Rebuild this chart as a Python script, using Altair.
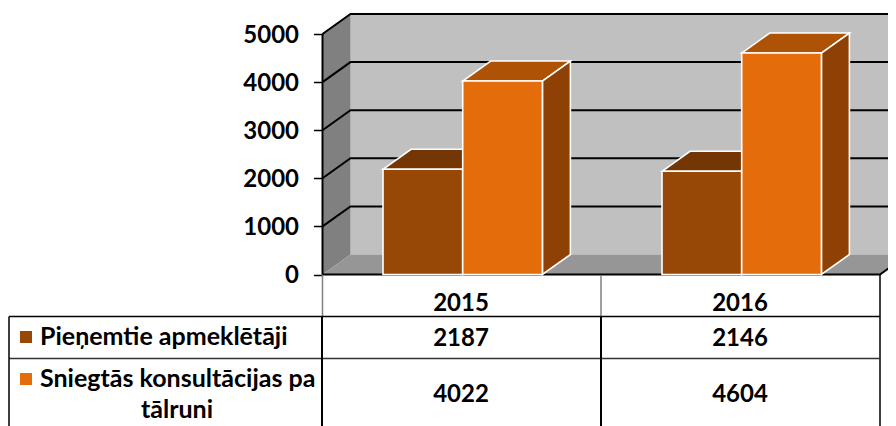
import altair as alt
import pandas as pd

# ---- chart values ----
years = ["2015", "2016"]
series_names = ["Pieņemtie apmeklētāji", "Sniegtās konsultācijas pa"]
visitors = [2187, 2146]
consultations = [4022, 4604]
y_ticks = [0, 1000, 2000, 3000, 4000, 5000]
grid_values = [1000, 2000, 3000, 4000, 5000]

# ---- layout (page pixels, minus the 8px page margin) ----
M = 8
W, H = 880, 418
AXIS_X = 322.5 - M
Y0 = 274.5 - M
PX_PER_UNIT = 240.5 / 5000
DEPTH_X = 28
DEPTH_V = 20 / PX_PER_UNIT
SLOT = 279
BAR_OFFSET = 60.5
BAR_W = 79.7
FLOOR_RIGHT = 880 - M

X_SCALE = alt.Scale(domain=[0, W], range=[0, W], nice=False, zero=False)
Y_SCALE = alt.Scale(
    domain=[-(H - Y0) / PX_PER_UNIT, Y0 / PX_PER_UNIT], nice=False, zero=False
)

FONT = "Lato"
FS = 24
FS_NAMES = 25

Y_AXIS = alt.Axis(
    values=y_ticks, offset=-AXIS_X, tickSize=9, tickWidth=1.5,
    tickColor="black", domain=False, grid=False, labelFont=FONT,
    labelFontSize=FS, labelFontWeight="bold", labelColor="black",
    labelPadding=15, labelOffset=1, format="d", title=None, labelFlush=False,
    labelOverlap=False)


def X():
    return alt.X("x:Q", scale=X_SCALE, axis=None)


def Y():
    return alt.Y("y:Q", scale=Y_SCALE, axis=Y_AXIS, title=None)


def poly(rows, fill, stroke=None, sw=1.6):
    df = pd.DataFrame(rows, columns=["x", "y", "y2"])
    kw = {"fill": fill, "orient": "vertical", "opacity": 1}
    if stroke:
        kw.update(stroke=stroke, strokeWidth=sw)
    return alt.Chart(df).mark_area(**kw).encode(x=X(), y=Y(), y2="y2:Q")


def seg(points, color="black", w=2.0):
    df = pd.DataFrame(points, columns=["x", "y"])
    return alt.Chart(df).mark_line(color=color, strokeWidth=w).encode(x=X(), y=Y())


def px_rule(x1, y1, x2, y2, color="black", w=1.5):
    return (
        alt.Chart(pd.DataFrame({"k": [0]}))
        .mark_rule(color=color, strokeWidth=w)
        .encode(
            x=alt.value(x1 - M), x2=alt.value(x2 - M),
            y=alt.value(y1 - M), y2=alt.value(y2 - M),
        )
    )


def label(text, x, y, align="center", size=FS):
    return (
        alt.Chart(pd.DataFrame({"t": [text]}))
        .mark_text(font=FONT, fontSize=size, fontWeight="bold", color="black",
                   align=align, baseline="middle")
        .encode(x=alt.value(x - M), y=alt.value(y - M), text="t:N")
    )


def bar(x0, value, front, top, side):
    x1 = x0 + BAR_W
    dx, dv = DEPTH_X, DEPTH_V
    layers = [
        poly([[x0, value, value], [x0 + dx, value + dv, value],
              [x1, value + dv, value], [x1 + dx, value + dv, value + dv]],
             top, "white"),
        poly([[x1, value, 0], [x1 + dx, value + dv, dv]], side, "white"),
    ]
    f = pd.DataFrame({"x": [x0], "x2": [x1], "y": [value], "y2": [0]})
    layers.append(
        alt.Chart(f).mark_rect(fill=front, stroke="white", strokeWidth=1.6)
        .encode(x=X(), x2="x2:Q", y=Y(), y2="y2:Q")
    )
    return layers


layers = []

# back wall
wall = pd.DataFrame({"x": [AXIS_X + DEPTH_X], "x2": [W + 5],
                     "y": [5000 + DEPTH_V], "y2": [DEPTH_V]})
layers.append(
    alt.Chart(wall).mark_rect(fill="#C0C0C0", clip=True).encode(x=X(), x2="x2:Q", y=Y(), y2="y2:Q")
)
# left wall and floor
layers.append(poly([[AXIS_X, 5000, 0], [AXIS_X + DEPTH_X, 5000 + DEPTH_V, DEPTH_V]], "#808080"))
layers.append(poly([[AXIS_X, 0, 0], [AXIS_X + DEPTH_X, DEPTH_V, 0],
                    [FLOOR_RIGHT, DEPTH_V, 0],
                    [FLOOR_RIGHT + DEPTH_X, DEPTH_V, DEPTH_V]], "#969696"))
# gridlines
for v in grid_values:
    layers.append(seg([[AXIS_X, v], [AXIS_X + DEPTH_X, v + DEPTH_V], [W + 5, v + DEPTH_V]]))
# axis edges
layers.append(seg([[AXIS_X, 0], [AXIS_X, 5000]]))
layers.append(seg([[AXIS_X, 0], [FLOOR_RIGHT, 0], [FLOOR_RIGHT + DEPTH_X, DEPTH_V]]))

# bars
for i, year in enumerate(years):
    start = AXIS_X + SLOT * i + BAR_OFFSET
    layers += bar(start, visitors[i], "#974806", "#743604", "#743604")
    layers += bar(start + BAR_W, consultations[i], "#E46C0A", "#AE5205", "#8F4105")

# data table rules
layers += [
    px_rule(322.5, 275, 322.5, 316, "#808080", 1.5),
    px_rule(601, 275, 601, 316, "#808080", 1.5),
    px_rule(880, 275, 880, 426, "black", 1.5),
    px_rule(9, 316.5, 880, 316.5, "black", 1.5),
    px_rule(9, 358.5, 880, 358.5, "#333333", 1.5),
    px_rule(9, 316.5, 9, 426, "black", 1.5),
    px_rule(322, 316, 322, 426, "black", 2),
    px_rule(601, 316, 601, 426, "black", 2),
]

# legend keys
for color, y in [("#974806", 337), ("#E46C0A", 379)]:
    layers.append(
        alt.Chart(pd.DataFrame({"k": [0]}))
        .mark_square(size=144, color=color, opacity=1)
        .encode(x=alt.value(26 - M), y=alt.value(y - M))
    )

# table text
layers.append(label(series_names[0], 40, 337, "left", FS_NAMES))
layers.append(label(series_names[1], 40, 379, "left", FS_NAMES))
layers.append(label("tālruni", 177, 410, "center", FS_NAMES))
for i, year in enumerate(years):
    cx = 461 + SLOT * i
    layers.append(label(year, cx, 304))
    layers.append(label(str(visitors[i]), cx, 339))
    layers.append(label(str(consultations[i]), cx, 395))

chart = (
    alt.layer(*layers)
    .properties(width=W, height=H, padding=0,
                autosize=alt.AutoSizeParams(type="none", contains="content"),
                background="white")
    .configure_view(stroke=None)
)
chart.save("out.html", embed_options={"renderer": "svg", "actions": False})
